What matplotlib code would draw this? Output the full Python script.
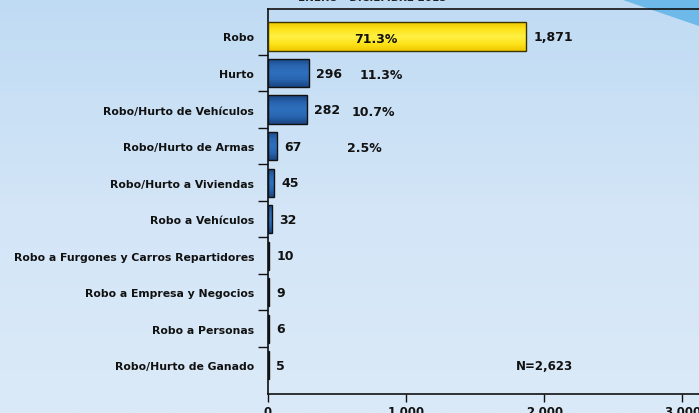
import numpy as np
import matplotlib
matplotlib.use("Agg")
import matplotlib.pyplot as plt
from matplotlib.colors import LinearSegmentedColormap
from matplotlib.patches import Polygon

categories = ["Robo", "Hurto", "Robo/Hurto de Vehículos", "Robo/Hurto de Armas",
              "Robo/Hurto a Viviendas", "Robo a Vehículos",
              "Robo a Furgones y Carros Repartidores", "Robo a Empresa y Negocios",
              "Robo a Personas", "Robo/Hurto de Ganado"]
values = [1871, 296, 282, 67, 45, 32, 10, 9, 6, 5]
value_labels = ["1,871", "296", "282", "67", "45", "32", "10", "9", "6", "5"]
pct_labels = ["71.3%", "11.3%", "10.7%", "2.5%"]
pct_xpos = [780, 820, 760, 700]
x_ticks = [0, 1000, 2000, 3000]
x_tick_labels = ["0", "1.000", "2.000", "3.000"]
total_label = "N=2,623"
title = "ENERO - DICIEMBRE 2015"

W, H = 699, 414
fig = plt.figure(figsize=(W / 100, H / 100), dpi=100)

# background gradient
bg = fig.add_axes([0, 0, 1, 1], zorder=-10)
bg.set_axis_off()
bg_cmap = LinearSegmentedColormap.from_list("bg", ["#bfdbf3", "#d3e5f7", "#dbeaf8"])
grad = np.linspace(0, 1, 256).reshape(-1, 1)
bg.imshow(grad, aspect="auto", cmap=bg_cmap, extent=[0, 1, 0, 1], origin="upper")
bg.add_patch(Polygon([[620 / W, 1], [1, 1], [1, 1 - 27 / H]], closed=True,
                     facecolor="#6db9e9", edgecolor="none"))
bg.set_xlim(0, 1)
bg.set_ylim(0, 1)

x0 = 268 / W
ax_w = 442 / W
y_top = 10
y_bot = 395
ax = fig.add_axes([x0, (H - y_bot) / H, ax_w, (y_bot - y_top) / H])
ax.set_facecolor("none")

pos = np.arange(len(categories))
bars = ax.barh(pos, values, height=0.77, color="none", edgecolor="#111111",
               linewidth=1.0, zorder=3)
bars[0].set_edgecolor("#3a3300")

blue_cmap = LinearSegmentedColormap.from_list("b", ["#1a4582", "#2965b0", "#2e70bd", "#2965b0", "#1a4582"])
yel_cmap = LinearSegmentedColormap.from_list("y", ["#efc800", "#fde41a", "#fff045", "#fde41a", "#efc800"])
g = np.linspace(0, 1, 64).reshape(-1, 1)
for i, b in enumerate(bars):
    cm = yel_cmap if i == 0 else blue_cmap
    x, y, w, h = b.get_x(), b.get_y(), b.get_width(), b.get_height()
    im = ax.imshow(g, aspect="auto", cmap=cm, extent=[x, x + w, y + h, y],
                   origin="upper", zorder=2)
    im.set_clip_path(b)

ax.set_xlim(0, 3200)
ax.set_ylim(9.79, -0.753)

for i, (v, lab) in enumerate(zip(values, value_labels)):
    ax.annotate(lab, (v, i), xytext=(5, 0), textcoords="offset points",
                va="center", ha="left", fontsize=9, fontweight="bold", color="#111111")

for i, (p, xp) in enumerate(zip(pct_labels, pct_xpos)):
    ax.text(xp, i + 0.05, p, va="center", ha="center", fontsize=9,
            fontweight="bold", color="#111111", zorder=5)

ax.text(2000, 9, total_label, va="center", ha="center", fontsize=8.5,
        fontweight="bold", color="#111111")

ax.set_yticks(pos)
ax.set_yticklabels(categories, fontsize=7.8, fontweight="bold", color="#111111")
ax.tick_params(axis="y", which="major", length=0, pad=10)
ax.set_yticks(pos[:-1] + 0.5, minor=True)
ax.tick_params(axis="y", which="minor", length=7, width=1, color="#111111", direction="out")

ax.set_xticks(x_ticks)
ax.set_xticklabels(x_tick_labels, fontsize=8.5, fontweight="bold", color="#111111")
ax.tick_params(axis="x", length=6, width=1, color="#111111", pad=2)

for s in ["left", "top", "bottom", "right"]:
    ax.spines[s].set_color("#111111")
    ax.spines[s].set_linewidth(1.2)

fig.text(372 / W, 1 + 2 / H, title, ha="center", va="center", fontsize=7.5,
         fontweight="bold", color="#222222")

fig.savefig("out.png", dpi=100)
